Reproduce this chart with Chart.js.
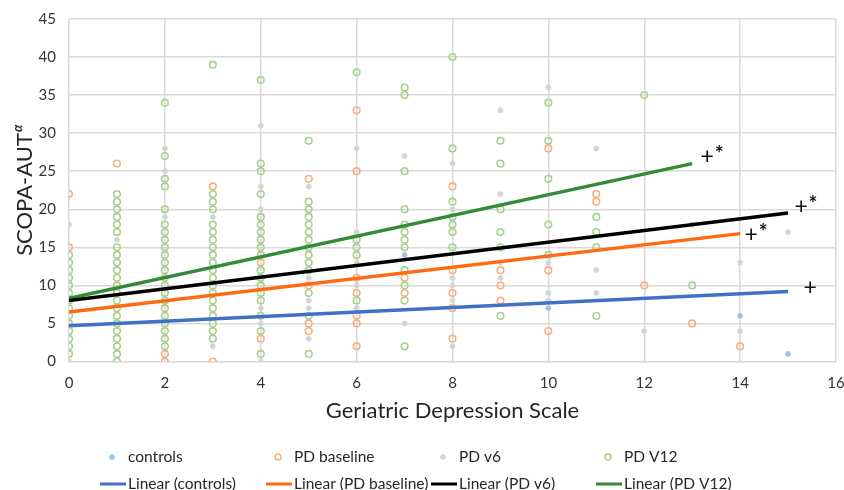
<!DOCTYPE html>
<html>
<head>
<meta charset="utf-8">
<script src="https://cdn.jsdelivr.net/npm/chart.js@4.4.0/dist/chart.umd.min.js"></script>
<style>
  html, body { margin: 0; padding: 0; background: #fff; }
  #wrap { position: relative; width: 844px; height: 490px; }
</style>
</head>
<body>
<div id="wrap"><canvas id="chart" width="844" height="490"></canvas></div>
<script>
// SCOPA-AUT scores, listed per Geriatric Depression Scale score (index = GDS 0..15)
const gdsScores = [0, 1, 2, 3, 4, 5, 6, 7, 8, 9, 10, 11, 12, 13, 14, 15];

const controls = [
  [], [], [], [], [], [], [], [14], [], [], [7], [], [], [], [6], [1]
];
const pdBaseline = [
  [22, 15], [26], [1, 0], [23, 0], [13, 3], [24, 10, 5, 4], [33, 25, 11, 9, 6, 5, 2], [11, 9],
  [23, 12, 9, 7, 3], [12, 10, 8], [28, 12, 4], [22, 21], [10], [5], [2], []
];
const pdV6 = [
  [18, 0], [16], [28, 25, 19], [19, 2], [31, 23, 20, 7, 5, 0], [23, 11, 8, 7, 3], [28, 17, 13, 10, 7], [27, 5],
  [26, 20, 11, 10, 8, 2], [33, 22, 13, 11], [36, 13, 9, 8], [28, 12, 9], [4], [18], [13, 4], [17]
];
const pdV12 = [
  [1, 2, 3, 4, 5, 6, 7, 8, 9, 10, 11, 12, 13, 14],
  [0, 1, 2, 3, 4, 5, 6, 7, 8, 9, 10, 11, 12, 13, 14, 15, 17, 18, 19, 20, 21, 22],
  [2, 3, 4, 5, 6, 7, 8, 9, 10, 11, 12, 13, 14, 15, 16, 17, 18, 20, 23, 24, 27, 34],
  [3, 4, 5, 6, 7, 8, 9, 10, 11, 12, 13, 14, 15, 16, 17, 18, 20, 21, 22, 39],
  [1, 4, 6, 8, 9, 10, 11, 12, 14, 15, 16, 17, 18, 19, 22, 25, 26, 37],
  [1, 6, 9, 12, 13, 14, 15, 16, 17, 18, 19, 20, 21, 29],
  [38, 16, 15, 14, 8],
  [36, 35, 25, 20, 18, 17, 16, 15, 12, 10, 8, 2],
  [40, 28, 21, 19, 18, 17, 15],
  [29, 26, 20, 17, 15, 6],
  [34, 29, 24, 18, 14],
  [19, 17, 15, 6],
  [35], [10], [], []
];

// linear trend lines: value at GDS 0, last GDS score, value there
const trendNames = ['Linear (controls)', 'Linear (PD baseline)', 'Linear (PD v6)', 'Linear (PD V12)'];
const trendStart = [4.7, 6.5, 8.0, 8.3];
const trendEndX = [15, 14, 15, 13];
const trendEnd = [9.2, 16.8, 19.5, 26.0];
const trendMarks = ['+', '+*', '+*', '+*'];

const yTicks = [0, 5, 10, 15, 20, 25, 30, 35, 40, 45];
const xTicks = [0, 2, 4, 6, 8, 10, 12, 14, 16];

const toPoints = cols => cols.flatMap((ys, i) => ys.map(y => ({ x: gdsScores[i], y })));

const FONT = 'Lato, "Open Sans", sans-serif';
const markerColors = ['#9dc3e6', '#f4b183', '#d4d4d4', '#a9d18e'];
const lineColors = ['#4070c8', '#ff6a10', '#000000', '#37893a'];
const markerNames = ['controls', 'PD baseline', 'PD v6', 'PD V12'];
const markerStyles = ['star', 'circle', 'star', 'circle'];

const scatterSets = [controls, pdBaseline, pdV6, pdV12].map((cols, i) => ({
  label: markerNames[i],
  data: toPoints(cols),
  pointStyle: markerStyles[i],
  pointRadius: markerStyles[i] === 'circle' ? 3.3 : 3,
  pointBorderWidth: markerStyles[i] === 'circle' ? 1.6 : 1.5,
  borderColor: markerColors[i],
  backgroundColor: 'rgba(0,0,0,0)',
  showLine: false,
  order: 5 - i
}));

const trendSets = trendNames.map((name, i) => ({
  label: name,
  data: [{ x: 0, y: trendStart[i] }, { x: trendEndX[i], y: trendEnd[i] }],
  showLine: true,
  borderColor: lineColors[i],
  borderWidth: 3.5,
  pointRadius: 0,
  fill: false,
  order: 0
}));

// axis titles, trend markers and the two-row legend
const extras = {
  id: 'extras',
  afterDatasetsDraw(chart) {
    const { ctx, scales } = chart;
    const x = scales.x, y = scales.y;
    ctx.save();
    ctx.fillStyle = '#111';
    // "+" / "+*" next to each trend line end
    const markOffsets = [[22, -4], [11, 1], [13, -7], [15, -7]];
    trendMarks.forEach((m, i) => {
      const px = x.getPixelForValue(trendEndX[i]) + markOffsets[i][0];
      const py = y.getPixelForValue(trendEnd[i]) + markOffsets[i][1];
      ctx.textAlign = 'center';
      ctx.textBaseline = 'middle';
      ctx.font = '23px ' + FONT;
      ctx.fillText('+', px, py);
      if (m.includes('*')) {
        ctx.font = 'bold 21px ' + FONT;
        ctx.fillText('*', px + 12, py - 2);
      }
    });
    ctx.restore();
  },
  afterDraw(chart) {
    const { ctx, chartArea } = chart;
    ctx.save();
    ctx.fillStyle = '#262626';
    // x title
    ctx.font = '22px ' + FONT;
    ctx.textAlign = 'center';
    ctx.textBaseline = 'middle';
    ctx.fillText('Geriatric Depression Scale', (chartArea.left + chartArea.right) / 2, 411);
    // y title with superscript alpha
    ctx.translate(25, (chartArea.top + chartArea.bottom) / 2);
    ctx.rotate(-Math.PI / 2);
    ctx.font = '22px ' + FONT;
    const w1 = ctx.measureText('SCOPA-AUT').width;
    ctx.font = 'italic bold 13px ' + FONT;
    const w2 = ctx.measureText('α').width;
    const start = -(w1 + w2 + 1) / 2;
    ctx.textAlign = 'left';
    ctx.font = '22px ' + FONT;
    ctx.fillText('SCOPA-AUT', start, 0);
    ctx.font = 'italic bold 13px ' + FONT;
    ctx.fillText('α', start + w1 + 1, -7);
    ctx.restore();

    // legend: markers row, then trend line row
    const colX = [100, 266, 431, 596];
    const row1 = 457, row2 = 484;
    ctx.save();
    ctx.font = '15.5px ' + FONT;
    ctx.textAlign = 'left';
    ctx.textBaseline = 'middle';
    markerNames.forEach((name, i) => {
      ctx.strokeStyle = markerColors[i];
      ctx.fillStyle = 'rgba(0,0,0,0)';
      ctx.lineWidth = 1.5;
      Chart.helpers.drawPoint(ctx, { pointStyle: markerStyles[i], radius: 3, borderWidth: 1.5 }, colX[i] + 12, row1);
      ctx.fillStyle = '#262626';
      ctx.fillText(name, colX[i] + 28, row1);
    });
    trendNames.forEach((name, i) => {
      ctx.strokeStyle = lineColors[i];
      ctx.lineWidth = 3;
      ctx.beginPath();
      ctx.moveTo(colX[i], row2);
      ctx.lineTo(colX[i] + 26, row2);
      ctx.stroke();
      ctx.fillStyle = '#262626';
      ctx.fillText(name, colX[i] + 28, row2);
    });
    ctx.restore();
  }
};

new Chart(document.getElementById('chart').getContext('2d'), {
  type: 'scatter',
  data: { datasets: [...trendSets, ...scatterSets] },
  options: {
    responsive: false,
    animation: false,
    devicePixelRatio: 1,
    layout: { padding: { top: 19, right: 8, left: 0, bottom: 0 } },
    plugins: { legend: { display: false }, tooltip: { enabled: false } },
    scales: {
      x: {
        type: 'linear',
        min: 0,
        max: 16,
        afterBuildTicks: s => { s.ticks = xTicks.map(v => ({ value: v })); },
        afterFit: s => { s.height = 128.5; s.paddingLeft = 0; s.paddingRight = 0; },
        ticks: { color: '#333', font: { family: FONT, size: 15 }, padding: 13, maxRotation: 0 },
        grid: { color: '#d9d9d9', lineWidth: 1.5, drawTicks: false },
        border: { display: false }
      },
      y: {
        min: 0,
        max: 45,
        afterBuildTicks: s => { s.ticks = yTicks.map(v => ({ value: v })); },
        afterFit: s => { s.width = 69; s.paddingTop = 0; s.paddingBottom = 0; },
        ticks: { color: '#333', font: { family: FONT, size: 15 }, padding: 13 },
        grid: { color: '#d9d9d9', lineWidth: 1.5, drawTicks: false },
        border: { display: false }
      }
    }
  },
  plugins: [extras]
});
</script>
</body>
</html>
